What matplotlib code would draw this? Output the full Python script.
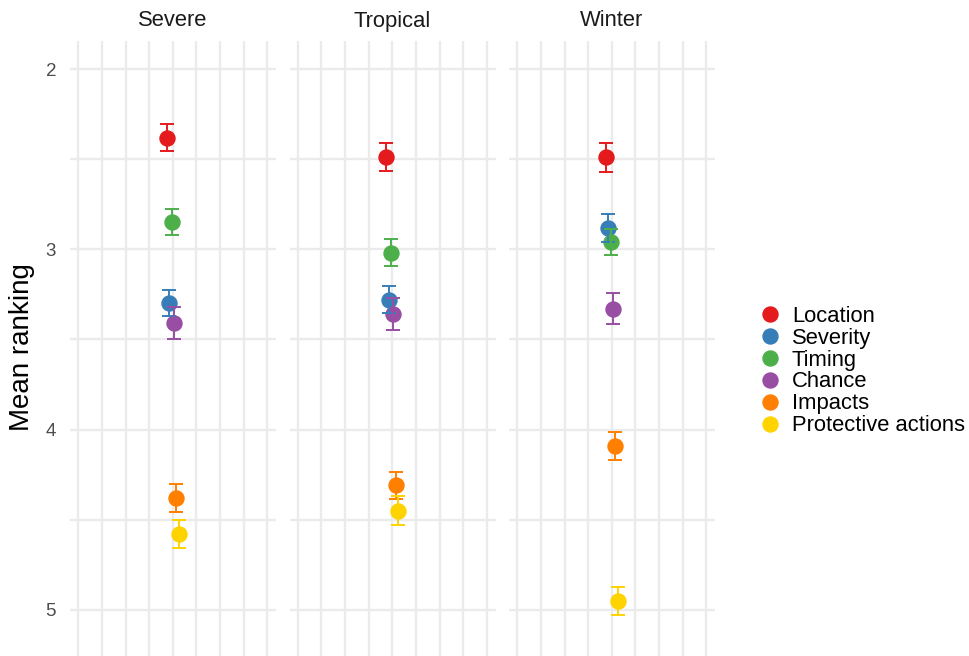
import matplotlib
matplotlib.use("Agg")
import matplotlib.pyplot as plt
from matplotlib.lines import Line2D
import numpy as np

plt.rcParams["font.family"] = ["Liberation Sans", "DejaVu Sans"]

# Information elements ranked by respondents, per hazard type
categories = ["Location", "Severity", "Timing", "Chance", "Impacts", "Protective actions"]
colors = ["#E41A1C", "#377EB8", "#4DAF4A", "#984EA3", "#FF7F00", "#FFD300"]
hazards = ["Severe", "Tropical", "Winter"]

severe_mean = [2.38, 3.30, 2.85, 3.41, 4.38, 4.58]
severe_se = [0.076, 0.072, 0.073, 0.088, 0.076, 0.076]
tropical_mean = [2.49, 3.28, 3.02, 3.36, 4.31, 4.45]
tropical_se = [0.077, 0.075, 0.075, 0.089, 0.075, 0.081]
winter_mean = [2.49, 2.88, 2.96, 3.33, 4.09, 4.95]
winter_se = [0.079, 0.078, 0.074, 0.087, 0.079, 0.077]

y_ticks = [2, 3, 4, 5]
y_minor = [2.5, 3.5, 4.5]

means = [severe_mean, tropical_mean, winter_mean]
ses = [severe_se, tropical_se, winter_se]

W, H = 969, 656
fig = plt.figure(figsize=(W / 100, H / 100), dpi=100)

grid_col = "#EBEBEB"
panel_left = [70, 289.5, 509]
panel_w = 206
panel_top = 40.7

center = 4.0
dodge = np.linspace(-0.25, 0.25, len(categories))

axes = []
for k, hz in enumerate(hazards):
    ax = fig.add_axes([panel_left[k] / W, 0, panel_w / W, 1 - panel_top / H])
    axes.append(ax)
    ax.set_xlim(-0.353, 8.37)
    ax.set_ylim(5.2557, 1.843)
    for s in ax.spines.values():
        s.set_visible(False)
    ax.set_xticks(np.arange(0, 9))
    ax.set_yticks(y_ticks)
    ax.set_yticks(y_minor, minor=True)
    ax.tick_params(axis="both", which="both", length=0)
    ax.set_xticklabels([])
    ax.grid(True, which="both", color=grid_col, linewidth=1.7)
    ax.set_axisbelow(True)
    if k == 0:
        ax.set_yticklabels([str(t) for t in y_ticks], fontsize=13.5, color="#4D4D4D")
        ax.tick_params(axis="y", pad=10)
    else:
        ax.set_yticklabels([])

    for i, (cat, col) in enumerate(zip(categories, colors)):
        x = center + dodge[i]
        ax.plot([x], [means[k][i]], "o", color=col, ms=10.8, zorder=3)
        ax.errorbar([x], [means[k][i]], yerr=[ses[k][i]], fmt="none",
                    ecolor=col, elinewidth=1.4, capsize=4.8, capthick=1.4, zorder=4)

    fig.text((panel_left[k] + panel_w / 2) / W, 1 - 21 / H, hz,
             ha="center", va="center", fontsize=15.8, color="#1A1A1A")

fig.text(22 / W, 1 - 347 / H, "Mean ranking", rotation=90,
         ha="center", va="center", fontsize=20, color="#000000")

handles = [Line2D([], [], marker="o", ls="", color=c, ms=10.8) for c in colors]
fig.legend(handles, categories, loc="center left",
           bbox_to_anchor=(759 / W, 1 - 371 / H), frameon=False,
           fontsize=15.8, handlelength=1.0, handletextpad=0.5,
           labelspacing=0.045, borderpad=0, borderaxespad=0)

fig.savefig("out.png", dpi=100)
